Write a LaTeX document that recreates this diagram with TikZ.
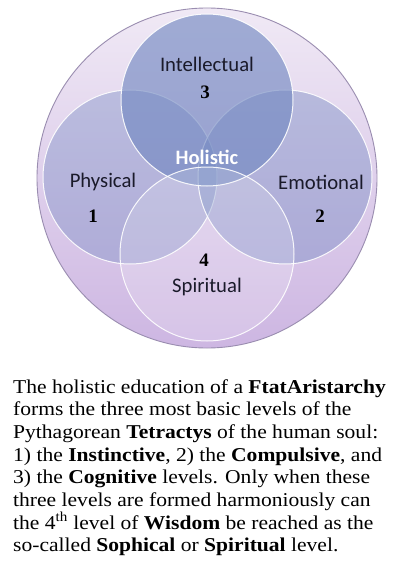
\documentclass[tikz,border=0pt]{standalone}
\usepackage{fontspec}
\setmainfont{Liberation Serif}[FakeStretch=1.1]
\newfontfamily\lab{Carlito}
\newfontfamily\numf{Liberation Serif}
\definecolor{outtop}{HTML}{F0E9F5}
\definecolor{outbot}{HTML}{CDB6E2}
\definecolor{outline}{HTML}{9A8DB0}
\definecolor{blu}{HTML}{6F86C0}
\definecolor{txt}{HTML}{1A1A2A}
\tikzset{
  petal/.style={fill=blu, draw=white, line width=1pt, draw opacity=0.9},
  lbl/.style={font=\lab\fontsize{20.7}{20.7}\selectfont, text=txt, inner sep=0pt},
  num/.style={font=\numf\bfseries\fontsize{19}{19}\selectfont, text=black, inner sep=0pt},
  line/.style={anchor=base west, inner sep=0pt, font=\fontsize{19.6}{20}\selectfont}
}
\begin{document}
\begin{tikzpicture}[x=1pt,y=-1pt]
\useasboundingbox (0,0) rectangle (408,567);
\fill[white] (0,0) rectangle (408,567);
% outer circle
\shade[top color=outtop, bottom color=outbot, draw=outline, line width=0.9pt] (207,178) circle[radius=170];
% petals
\path[petal, fill opacity=0.37] (130,177) circle[radius=87];
\path[petal, fill opacity=0.40] (285,177) circle[radius=87];
\path[petal, fill opacity=0.62] (207,100) circle[radius=86];
\path[petal, fill=white, fill opacity=0.18] (207,254) circle[radius=87];
% labels
\node[lbl] (intel) at (207,64) {Intellectual};
\node[num] (n3) at (205,92) {3};
\node[lbl, text=white, font=\lab\bfseries\fontsize{20.5}{20.5}\selectfont] (hol) at (207,157) {Holistic};
\node[lbl] (phys) at (103,182) {Physical};
\node[num] (n1) at (93,216) {1};
\node[lbl] (emo) at (321,182) {Emotional};
\node[num] (n2) at (320,216) {2};
\node[num] (n4) at (204,260) {4};
\node[lbl] (spir) at (207,287) {Spiritual};
% text
\node[line] (l1) at (13,393) {The holistic education of a \textbf{FtatAristarchy}};
\node[line] (l2) at (13,415.7) {forms the three most basic levels of the};
\node[line] (l3) at (13,438.4) {Pythagorean \textbf{Tetractys} of the human soul:};
\node[line] (l4) at (13,461.1) {1) the \textbf{Instinctive}, 2) the \textbf{Compulsive}, and};
\node[line] (l5) at (13,483.8) {3) the \textbf{Cognitive} levels. Only when these};
\node[line] (l6) at (13,506.5) {three levels are formed harmoniously can};
\node[line] (l7) at (13,529.2) {the 4\textsuperscript{th} level of \textbf{Wisdom} be reached as the};
\node[line] (l8) at (13,551.9) {so-called \textbf{Sophical} or \textbf{Spiritual} level.};
\end{tikzpicture}
\end{document}
